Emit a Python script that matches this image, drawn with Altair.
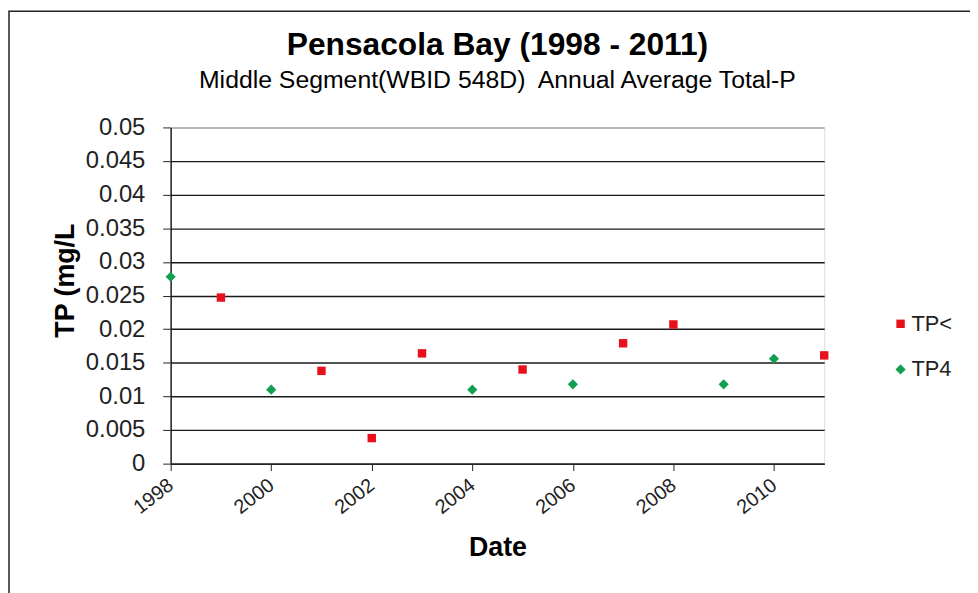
import altair as alt
import pandas as pd

# Data
years_tp_lt = [1999, 2001, 2002, 2003, 2005, 2007, 2008, 2011]
vals_tp_lt = [0.0247, 0.0138, 0.0038, 0.0164, 0.0140, 0.0179, 0.0207, 0.0161]
years_tp4 = [1998, 2000, 2004, 2006, 2009, 2010]
vals_tp4 = [0.0278, 0.0110, 0.0110, 0.0118, 0.0118, 0.0156]
series_names = ["TP<", "TP4"]
series_colors = ["#e8101a", "#10a050"]
series_shapes = ["square", "diamond"]
y_ticks = [0, 0.005, 0.01, 0.015, 0.02, 0.025, 0.03, 0.035, 0.04, 0.045, 0.05]
x_ticks = [1998, 2000, 2002, 2004, 2006, 2008, 2010]

df = pd.concat([
    pd.DataFrame({"year": years_tp_lt, "tp": vals_tp_lt, "series": "TP<"}),
    pd.DataFrame({"year": years_tp4, "tp": vals_tp4, "series": "TP4"}),
])

FONT = "Liberation Sans"

points = alt.Chart(df).mark_point(filled=True, opacity=1).encode(
    x=alt.X("year:Q", scale=alt.Scale(domain=[1998, 2011], nice=False, zero=False),
            axis=alt.Axis(values=x_ticks, format="d", title="Date", grid=False,
                          labelAngle=-38, labelAlign="right", labelBaseline="middle",
                          labelPadding=12, tickSize=7, tickColor="#222",
                          domainColor="#222", domainWidth=1.5,
                          labelFont=FONT, labelFontSize=20, labelColor="#222",
                          titleFont=FONT, titleFontSize=27, titleFontWeight="bold",
                          titleColor="black", titleY=93, titleBaseline="alphabetic")),
    y=alt.Y("tp:Q", scale=alt.Scale(domain=[0, 0.05], nice=False),
            axis=alt.Axis(values=y_ticks, format=".3~f", title="TP (mg/L",
                          grid=True,
                          gridColor={"condition": {"test": "datum.value >= 0.049", "value": "#a8a8a8"},
                                     "value": "#1a1a1a"},
                          gridWidth=1.4, tickSize=8, tickColor="#222",
                          domainColor="#222", domainWidth=1.5, labelPadding=18,
                          labelFont=FONT, labelFontSize=24, labelColor="#222",
                          titleFont=FONT, titleFontSize=27, titleFontWeight="bold",
                          titleColor="black", titlePadding=6, titleY=154)),
    color=alt.Color("series:N", scale=alt.Scale(domain=series_names, range=series_colors),
                    legend=alt.Legend(title=None, orient="none", legendX=725, legendY=187,
                                      labelFont=FONT, labelFontSize=22, labelColor="#222",
                                      symbolSize=80, rowPadding=24, labelOffset=0)),
    shape=alt.Shape("series:N", scale=alt.Scale(domain=series_names, range=series_shapes)),
    size=alt.Size("series:N", scale=alt.Scale(domain=series_names, range=[72, 105]), legend=None),
)

frame = alt.Chart(pd.DataFrame({"a": [0]})).mark_rect(
    fill="transparent", stroke="#222", strokeWidth=1.5
).encode(
    x=alt.value(-163), x2=alt.value(900), y=alt.value(-117.25), y2=alt.value(700)
)

chart = alt.layer(frame, points).properties(
    width=659,
    height=339,
    autosize=alt.AutoSizeParams(type="none"),
    padding={"left": 164, "top": 118, "right": 147, "bottom": 128},
    title=alt.Title("Pensacola Bay (1998 - 2011)",
                    subtitle="Middle Segment(WBID 548D)\u00a0 Annual Average Total-P",
                    font=FONT, fontSize=32, fontWeight="bold", color="black",
                    subtitleFont=FONT, subtitleFontSize=25, subtitleColor="black",
                    anchor="middle", frame="group", offset=-84, subtitlePadding=6),
).configure_view(stroke="#a8a8a8", strokeWidth=1.2).configure(background="white")

chart.save("out.html", embed_options={"renderer": "svg", "actions": False})
